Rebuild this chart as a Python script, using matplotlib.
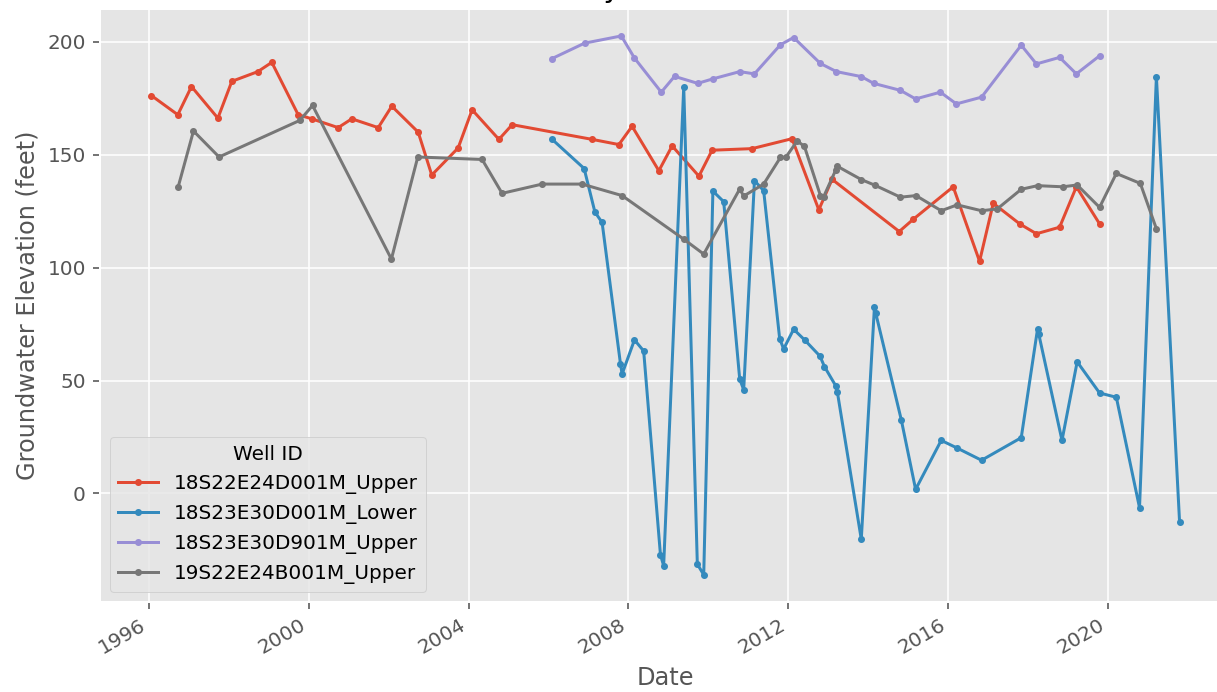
import numpy as np
import pandas as pd
import matplotlib
matplotlib.use("Agg")
import matplotlib.pyplot as plt
import matplotlib.dates as mdates

# ── Well readings (decimal year, elevation in feet) ──
well_ids = ['18S22E24D001M_Upper', '18S23E30D001M_Lower',
            '18S23E30D901M_Upper', '19S22E24B001M_Upper']

d001_upper_t = [1996.07, 1996.73, 1997.07, 1997.73, 1998.08, 1998.73, 1999.08, 1999.74,
                2000.08, 2000.74, 2001.08, 2001.74, 2002.08, 2002.74, 2003.08, 2003.74,
                2004.09, 2004.76, 2005.09, 2007.09, 2007.76, 2008.09, 2008.76, 2009.09,
                2009.76, 2010.09, 2011.09, 2012.09, 2012.76, 2013.09, 2014.77, 2015.12,
                2016.12, 2016.78, 2017.12, 2017.78, 2018.20, 2018.78, 2019.20, 2019.78]
d001_upper_v = [176.2, 167.7, 180.2, 166.2, 182.5, 186.8, 190.9, 167.7,
                165.9, 162.0, 165.9, 162.0, 171.5, 160.0, 141.0, 153.0,
                169.9, 156.8, 163.3, 156.8, 154.5, 162.6, 142.9, 153.9,
                140.5, 152.0, 152.7, 157.1, 125.6, 139.1, 116.0, 121.4,
                135.8, 102.8, 128.5, 119.4, 115.0, 117.9, 135.8, 119.4]

d001_lower_t = [2006.09, 2006.89, 2007.16, 2007.34, 2007.80, 2007.84, 2008.15, 2008.38,
                2008.80, 2008.88, 2009.38, 2009.72, 2009.88, 2010.11, 2010.38, 2010.78,
                2010.88, 2011.15, 2011.38, 2011.78, 2011.88, 2012.13, 2012.41, 2012.79,
                2012.90, 2013.18, 2013.22, 2013.82, 2014.15, 2014.18, 2014.82, 2015.18,
                2015.82, 2016.22, 2016.83, 2017.82, 2018.23, 2018.26, 2018.84, 2019.22,
                2019.78, 2020.20, 2020.78, 2021.20, 2021.78]
d001_lower_v = [156.8, 143.9, 124.6, 120.0, 57.3, 52.9, 68.0, 63.1,
                -27.2, -32.0, 180.0, -31.3, -36.0, 133.9, 129.2, 50.7,
                45.9, 138.5, 134.1, 68.6, 64.0, 72.7, 67.9, 60.8,
                56.2, 47.7, 45.1, -20.3, 82.7, 80.0, 32.7, 1.8,
                23.5, 20.1, 14.7, 24.7, 73.0, 70.5, 23.5, 58.3,
                44.5, 42.6, -6.3, 184.6, -12.8]

d901_upper_t = [2006.09, 2006.90, 2007.82, 2008.15, 2008.82, 2009.15, 2009.73, 2010.11,
                2010.78, 2011.15, 2011.80, 2012.13, 2012.80, 2013.20, 2013.82, 2014.13,
                2014.80, 2015.18, 2015.80, 2016.20, 2016.83, 2017.82, 2018.20, 2018.78,
                2019.20, 2019.78]
d901_upper_v = [192.6, 199.4, 202.6, 192.8, 177.7, 184.7, 181.6, 183.6,
                186.8, 185.8, 198.7, 201.9, 190.4, 186.8, 184.6, 181.6,
                178.5, 174.7, 177.7, 172.5, 175.5, 198.5, 190.2, 193.1,
                185.8, 193.8]

b001_upper_t = [1996.74, 1997.12, 1997.76, 1999.78, 2000.10, 2002.07, 2002.73, 2004.34,
                2004.84, 2005.84, 2006.84, 2007.84, 2009.38, 2009.88, 2010.78, 2010.88,
                2011.38, 2011.80, 2011.93, 2012.22, 2012.40, 2012.80, 2012.88, 2013.18,
                2013.22, 2013.82, 2014.16, 2014.80, 2015.19, 2015.82, 2016.22, 2016.83,
                2017.22, 2017.82, 2018.23, 2018.86, 2019.22, 2019.78, 2020.20, 2020.80,
                2021.20]
b001_upper_v = [135.8, 160.5, 149.0, 165.2, 171.8, 103.8, 149.0, 147.9,
                132.9, 137.0, 137.0, 131.9, 112.6, 106.0, 134.8, 131.7,
                137.0, 148.8, 148.8, 156.1, 153.7, 131.9, 131.4, 143.2,
                144.9, 139.0, 136.5, 131.2, 131.9, 125.2, 127.8, 125.2,
                126.0, 134.7, 136.3, 135.8, 136.6, 126.7, 141.7, 137.3,
                117.2]

series_t = [d001_upper_t, d001_lower_t, d901_upper_t, b001_upper_t]
series_v = [d001_upper_v, d001_lower_v, d901_upper_v, b001_upper_v]


def to_dates(years):
    # decimal year -> timestamp
    yrs = np.array(years)
    base = pd.to_datetime([f"{int(y)}-01-01" for y in yrs])
    return base + pd.to_timedelta((yrs - yrs.astype(int)) * 365.25, unit="D")


# ── Plot ──────────────────────────────────────────────────
plt.style.use("ggplot")
fig = plt.figure(figsize=(1217 / 144, 692 / 144), dpi=144)
ax = fig.add_axes([100 / 1217, 1 - 601.7 / 692, 1131 / 1217, 592.7 / 692])

for well, t, v in zip(well_ids, series_t, series_v):
    ax.plot(to_dates(t), v, marker='.', markersize=5, linewidth=1.5, label=well)

ax.set_title("Elevation by Well ID Over Time")
ax.set_xlabel("Date")
ax.set_ylabel("Groundwater Elevation (feet)")
ax.xaxis.set_major_locator(mdates.YearLocator(4))
ax.xaxis.set_major_formatter(mdates.DateFormatter('%Y'))
plt.setp(ax.get_xticklabels(), rotation=30, ha='right')
ax.legend(title="Well ID", loc='lower left')

plt.savefig("out.png", dpi=144)
